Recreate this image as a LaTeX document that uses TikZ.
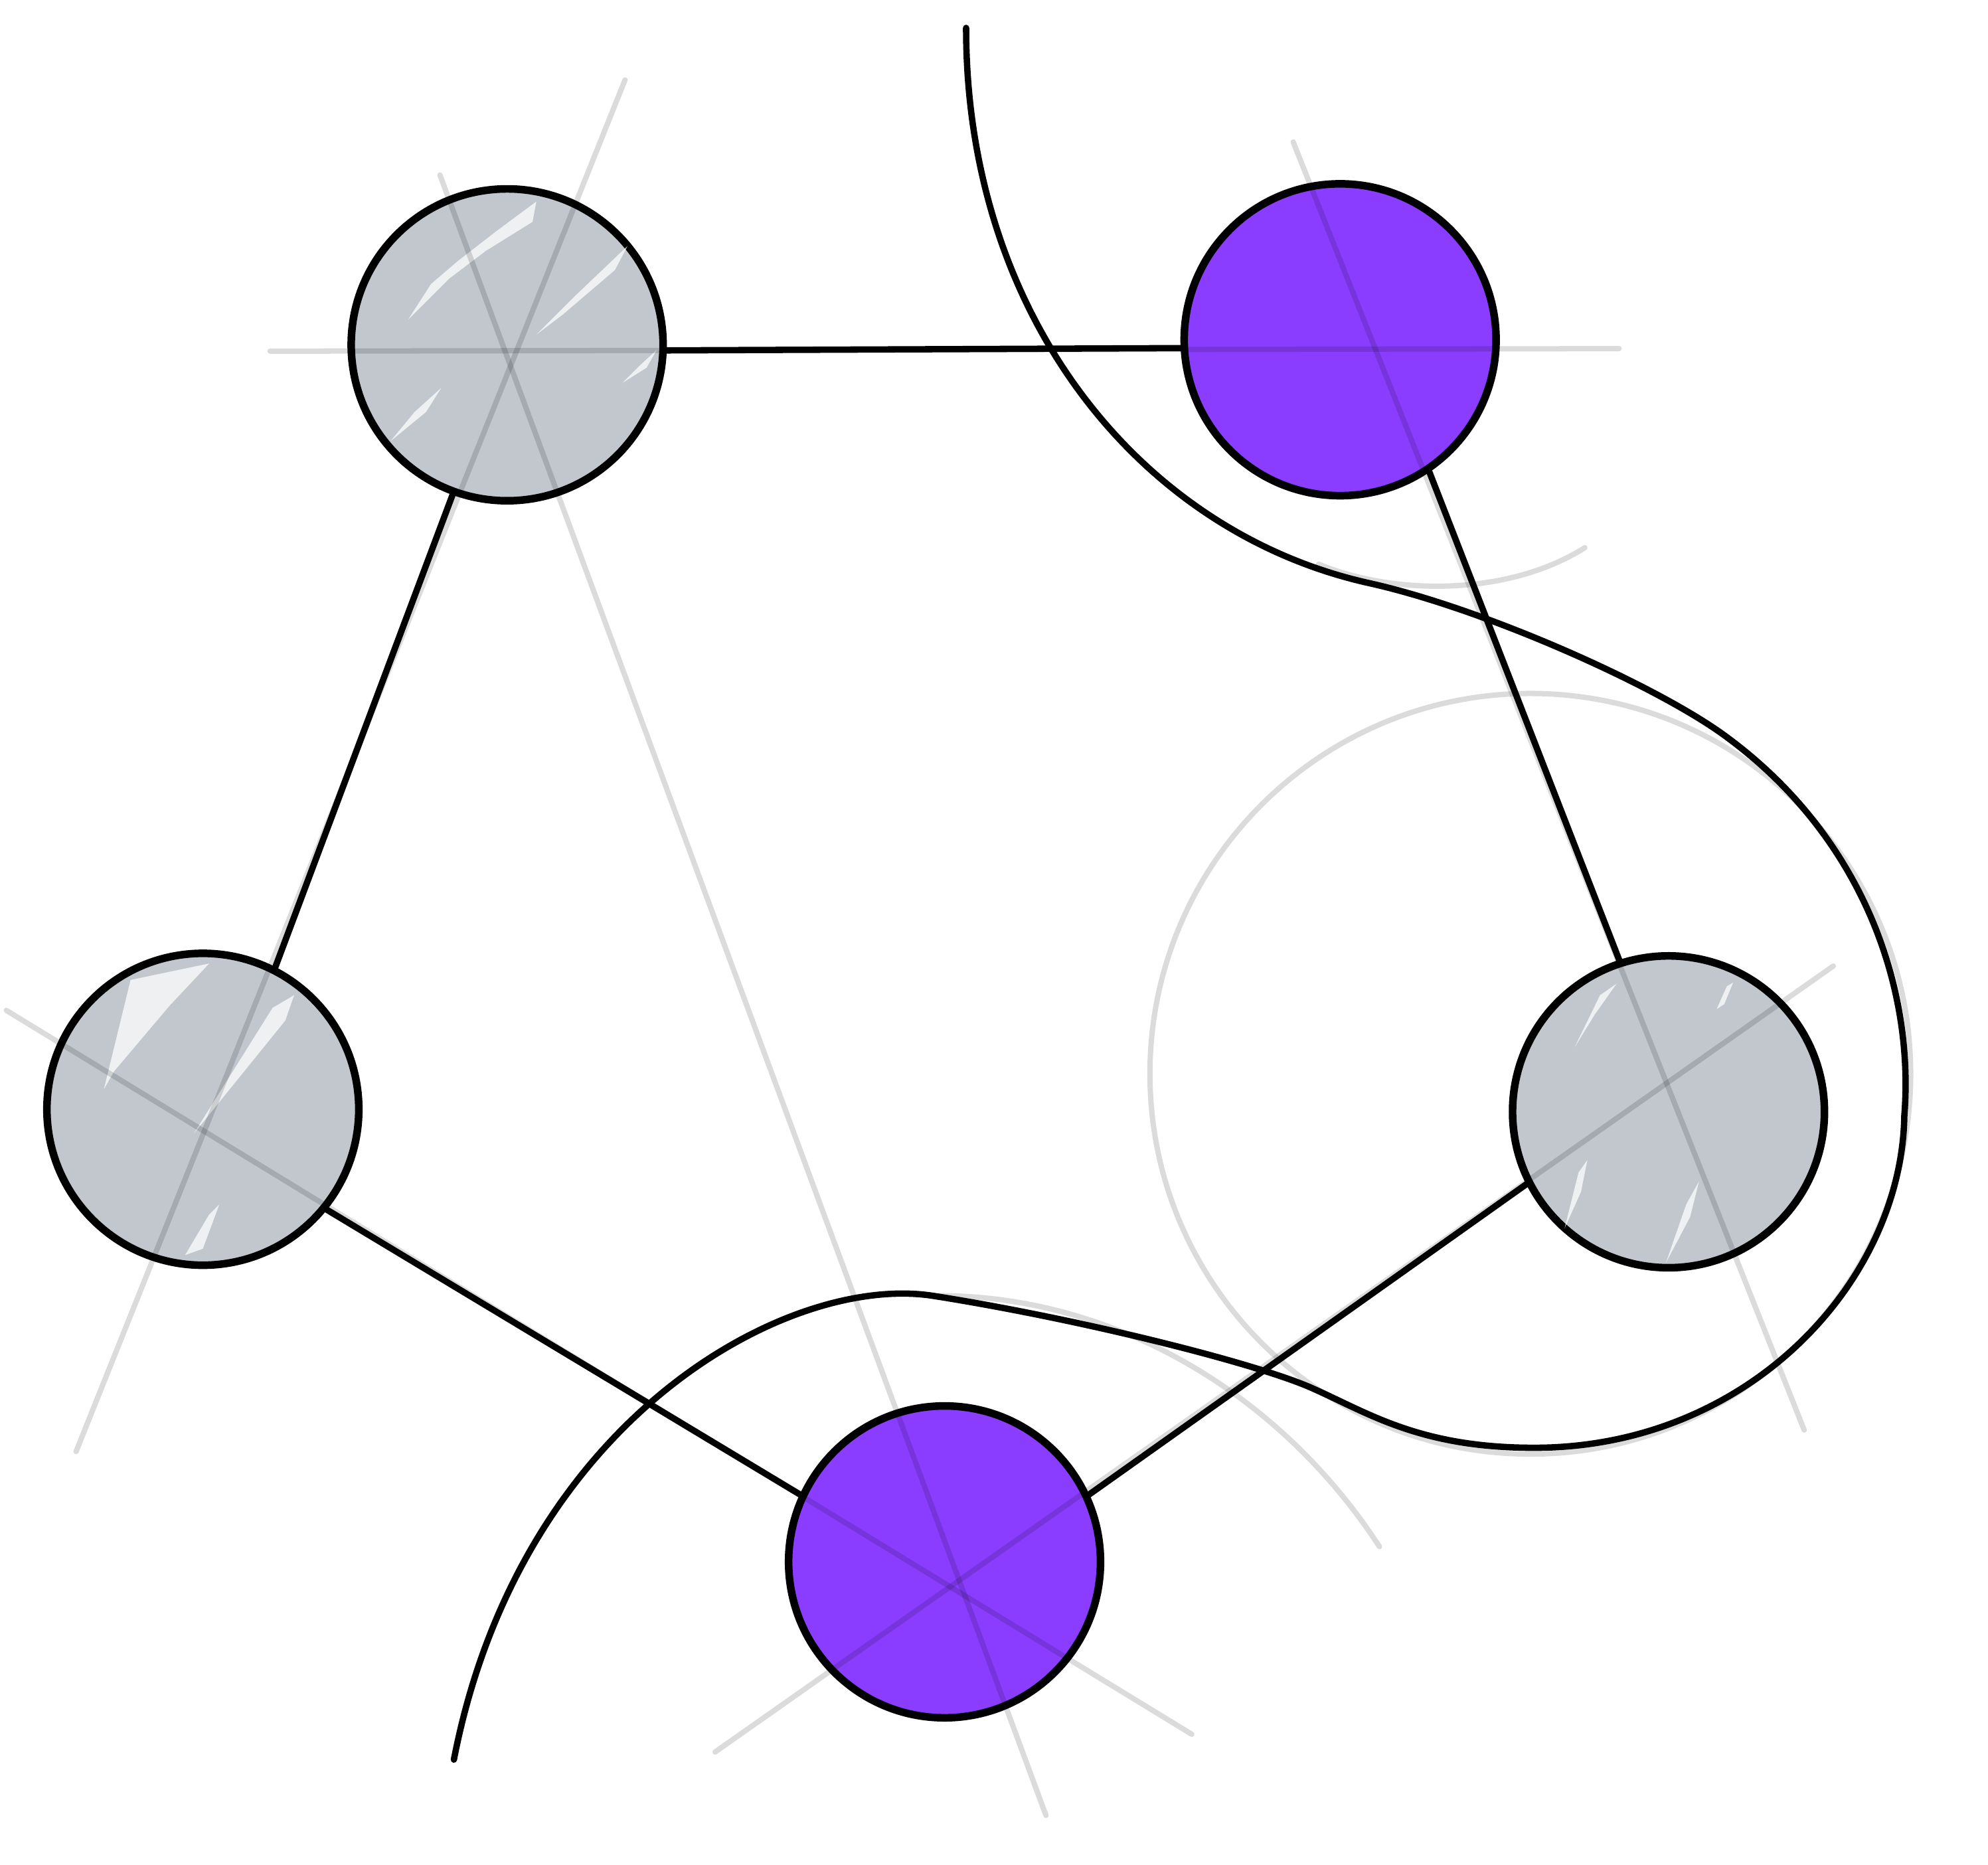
\documentclass[tikz,border=0pt]{standalone}
\usepackage{xcolor}
\usepackage{tikz}
\usetikzlibrary{arrows.meta,positioning}
\definecolor{vtxg}{RGB}{193,199,205}
\definecolor{vtxp}{RGB}{139,61,255}

\begin{document}
\begin{tikzpicture}[x=0.1mm,y=-0.1mm,
  vtx/.style={circle,draw=black,line width=0.6mm,minimum size=24.6mm,inner sep=0pt},
  link/.style={black,line width=0.5mm,line cap=round},
  guide/.style={black,opacity=0.14,line width=0.42mm,line cap=round},
  shine/.style={fill=white,opacity=0.75}]
  \useasboundingbox (0,0) rectangle (1568,1471);
  % vertices (pentagon)
  \node[vtx,fill=vtxg] (A) at (400,272) {};
  \node[vtx,fill=vtxp] (B) at (1057,268) {};
  \node[vtx,fill=vtxg] (C) at (160,875) {};
  \node[vtx,fill=vtxg] (D) at (1316,877) {};
  \node[vtx,fill=vtxp] (E) at (745,1232) {};
  % shine on the grey ones
  \fill[shine] (322,252) -- (340,224) -- (361,206) -- (392,182) -- (423,159) -- (420,175) -- (383,198) -- (354,220) -- cycle;
  \fill[shine] (423,264) -- (453,234) -- (495,194) -- (485,213) -- (444,248) -- cycle;
  \fill[shine] (308,348) -- (327,325) -- (348,306) -- (336,325) -- cycle;
  \fill[shine] (491,302) -- (505,288) -- (518,276) -- (510,290) -- cycle;
  \fill[shine] (82,859) -- (103,773) -- (165,760) -- (134,793) -- (90,845) -- cycle;
  \fill[shine] (153,894) -- (215,795) -- (232,785) -- (225,805) -- cycle;
  \fill[shine] (146,990) -- (165,958) -- (173,950) -- (160,985) -- cycle;
  \fill[shine] (1242,826) -- (1262,785) -- (1275,776) -- (1258,800) -- cycle;
  \fill[shine] (1354,796) -- (1362,778) -- (1367,775) -- (1360,792) -- cycle;
  \fill[shine] (1234,969) -- (1245,925) -- (1252,915) -- (1247,940) -- cycle;
  \fill[shine] (1314,996) -- (1330,950) -- (1340,932) -- (1333,960) -- cycle;
  % edges
  \draw[link] (A.-2) -- (B.183);
  \draw[link] (A.250) -- (C.63);
  \draw[link] (C.-39) -- (E.155);
  \draw[link] (E.25) -- (D.207);
  \draw[link] (B.-56) -- (D.108);
  % the long curve
  \draw[link] (762,22) .. controls (762,250) and (900,420) .. (1080,460)
    .. controls (1170,480) and (1305,540) .. (1360,580)
    .. controls (1470,660) and (1510,780) .. (1502,880)
    .. controls (1500,1010) and (1380,1142) .. (1210,1142)
    .. controls (1120,1142) and (1080,1115) .. (1035,1095)
    .. controls (990,1075) and (850,1040) .. (735,1022)
    .. controls (620,1005) and (410,1120) .. (358,1388);
  % construction lines
  \draw[guide] (213,277) -- (1277,275);
  \draw[guide] (347,138) -- (825,1432);
  \draw[guide] (493,63) -- (60,1145);
  \draw[guide] (1020,112) -- (1423,1128);
  \draw[guide] (5,797) -- (940,1368);
  \draw[guide] (1446,762) -- (564,1382);
  \draw[guide] (1207,847) circle (30mm);
  \draw[guide] (1040,445) .. controls (1100,470) and (1190,470) .. (1250,432);
  \draw[guide] (740,1022) .. controls (880,1022) and (1010,1100) .. (1088,1220);
\end{tikzpicture}
\end{document}
